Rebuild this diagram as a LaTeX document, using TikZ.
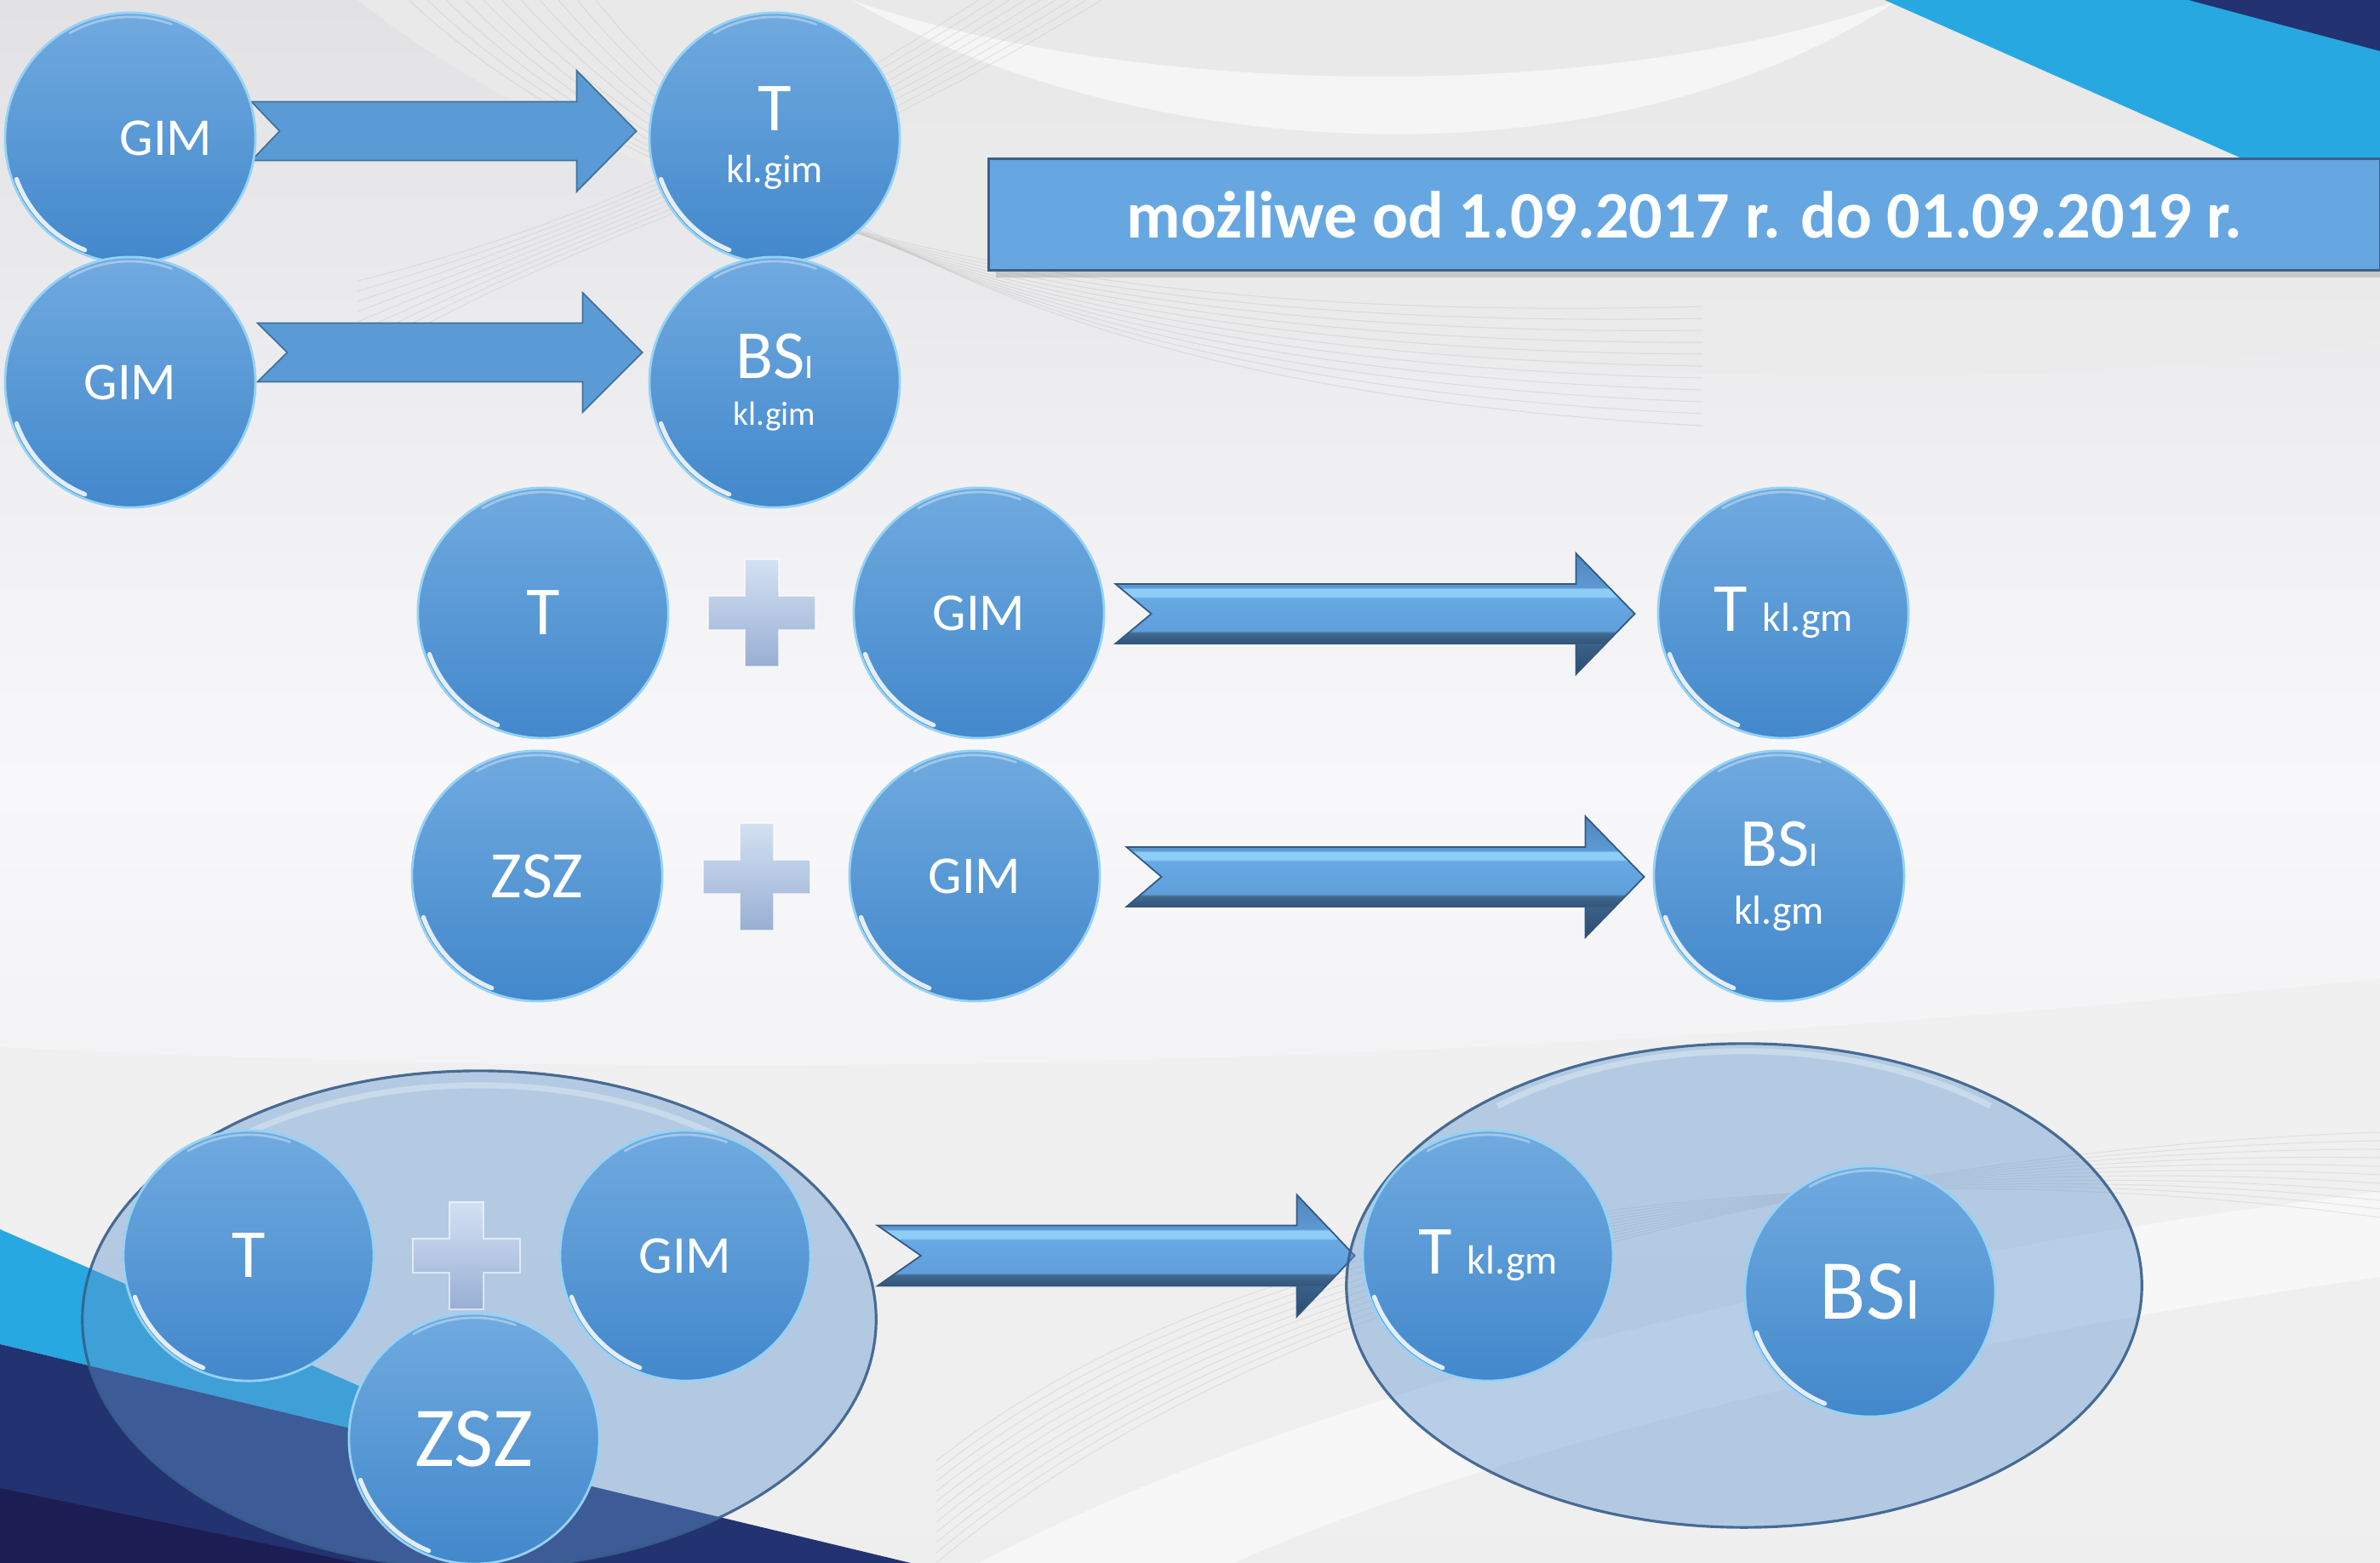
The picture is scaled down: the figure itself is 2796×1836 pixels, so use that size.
\documentclass[tikz,border=0pt]{standalone}
\usepackage{fontspec}
\setmainfont{Carlito}
\usetikzlibrary{calc,shapes.geometric,shadows}
\pgfdeclarelayer{bg}
\pgfdeclarelayer{arr}
\pgfsetlayers{bg,arr,main}

\definecolor{ballTop}{RGB}{112,170,224}
\definecolor{ballBot}{RGB}{66,136,203}
\definecolor{ballRim}{RGB}{150,210,245}
\definecolor{flatFill}{RGB}{91,155,213}
\definecolor{flatEdge}{RGB}{65,113,156}
\definecolor{banFill}{RGB}{102,167,225}
\definecolor{banEdge}{RGB}{62,96,136}
\definecolor{plusTop}{RGB}{212,225,243}
\definecolor{plusBot}{RGB}{152,175,212}
\definecolor{ellFill}{RGB}{97,150,207}
\definecolor{ellEdge}{RGB}{55,95,140}
\definecolor{skyBlue}{RGB}{40,168,224}
\definecolor{navy}{RGB}{35,50,112}
\definecolor{deepNavy}{RGB}{28,29,82}
\definecolor{bgTop}{RGB}{226,226,228}
\definecolor{bgMid}{RGB}{248,248,250}
\definecolor{bgBot}{RGB}{234,234,236}
\definecolor{aDark}{RGB}{44,74,110}
\definecolor{aDarkB}{RGB}{58,97,137}
\definecolor{aBand}{RGB}{52,85,122}
\definecolor{aBandB}{RGB}{65,105,143}
\definecolor{aMid}{RGB}{95,159,219}
\definecolor{aMidB}{RGB}{103,169,228}
\definecolor{aLight}{RGB}{142,205,248}
\definecolor{aTopE}{RGB}{93,151,207}
\definecolor{aUp}{RGB}{79,134,191}
\definecolor{aEdge}{RGB}{50,88,130}

\pgfdeclareverticalshading{arrowthreed}{100bp}{color(0bp)=(aDark); color(25bp)=(aDark); color(37.5bp)=(aDarkB); color(38bp)=(aBand); color(42bp)=(aBandB); color(43bp)=(aMid); color(56.5bp)=(aMidB); color(57.2bp)=(aLight); color(60.2bp)=(aLight); color(61bp)=(aTopE); color(62.5bp)=(aTopE); color(75bp)=(aUp); color(100bp)=(aUp)}

\newcommand\fsz[1]{\fontsize{#1}{#1}\selectfont}

% style, from, to, half shaft, half head, head length, notch depth
\newcommand\blockarrow[7]{%
  \path[#1] let \p1=#2, \p2=#3 in
    (\x1,\y1+#4) -- (\x2-#6,\y1+#4) -- (\x2-#6,\y1+#5) -- (\x2,\y1)
    -- (\x2-#6,\y1-#5) -- (\x2-#6,\y1-#4) -- (\x1,\y1-#4) -- (\x1+#7,\y1) -- cycle;}

\newcommand\plusmark[1]{%
  \path[plusst] (#1) ++(-20,-63) -- ++(40,0) -- ++(0,43) -- ++(43,0) -- ++(0,40)
    -- ++(-43,0) -- ++(0,43) -- ++(-40,0) -- ++(0,-43) -- ++(-43,0) -- ++(0,-40)
    -- ++(43,0) -- cycle;}

\tikzset{
  ball/.style={circle, minimum size=2.94cm, inner sep=0pt, top color=ballTop,
    bottom color=ballBot, draw=ballRim, line width=0.8pt, text=white,
    path picture={
      \draw[white, line width=1.5pt, opacity=.85, line cap=round]
        ($(path picture bounding box.center)+(200:1.42cm)$) arc[start angle=200, end angle=248, radius=1.42cm];
      \draw[white, line width=0.8pt, opacity=.35, line cap=round]
        ($(path picture bounding box.center)+(70:1.42cm)$) arc[start angle=70, end angle=120, radius=1.42cm];
    }},
  bigell/.style={ellipse, inner sep=0pt, fill=ellFill, fill opacity=.42,
    draw=ellEdge, draw opacity=.9, line width=0.9pt,
    path picture={
      \draw[white, line width=2pt, opacity=.3]
        ($(path picture bounding box.center)+(50:4.5cm and 2.75cm)$) arc[start angle=50, end angle=130, x radius=4.5cm, y radius=2.75cm];
    }},
  flatarrow/.style={fill=flatFill, draw=flatEdge, line width=0.5pt},
  arrowthree/.style={shade, shading=arrowthreed, draw=aEdge, line width=0.5pt},
  plusst/.style={top color=plusTop, bottom color=plusBot, draw=white, draw opacity=.6, line width=0.6pt},
  banner/.style={rectangle, minimum width=16.34cm, minimum height=1.31cm, inner sep=0pt,
    fill=banFill, draw=banEdge, line width=0.8pt, text=white, font=\bfseries\fsz{22.2pt},
    drop shadow={shadow xshift=2.5pt, shadow yshift=-2.5pt, opacity=.3}},
}

\begin{document}
\begin{tikzpicture}[x=0.01cm, y=-0.01cm]
\useasboundingbox (0,0) rectangle (2796,1836);

% ---------- background ----------
\begin{pgfonlayer}{bg}
\fill[top color=bgTop, bottom color=bgBot, middle color=bgMid] (0,0) rectangle (2796,1836);
\fill[gray!16, opacity=.8] (420,0) .. controls (900,380) and (2000,520) .. (2796,400) -- (2796,0) -- cycle;
\fill[white, opacity=.55] (1000,0) .. controls (1350,200) and (1900,220) .. (2230,0) .. controls (1900,120) and (1350,120) .. (1000,0) -- cycle;
\foreach \k in {0,...,10}
  \draw[gray!45, line width=0.3pt, opacity=.45] (480+\k*22,0) .. controls (760+\k*15,260) and (1250,380+\k*8) .. (2000,360+\k*14);
\foreach \k in {0,...,8}
  \draw[gray!45, line width=0.3pt, opacity=.4] (1150+\k*18,0) .. controls (900,160+\k*10) and (700,260) .. (420,330+\k*12);
\fill[gray!12, opacity=.8] (0,1230) .. controls (800,1270) and (1700,1260) .. (2796,1150) -- (2796,1836) -- (0,1836) -- cycle;
\fill[white, opacity=.5] (1150,1836) .. controls (1600,1600) and (2300,1460) .. (2796,1400) -- (2796,1500) .. controls (2300,1570) and (1750,1700) .. (1450,1836) -- cycle;
\foreach \k in {0,...,10}
  \draw[gray!45, line width=0.3pt, opacity=.4] (1100,1836-\k*12) .. controls (1500,1500-\k*10) and (2200,1350) .. (2796,1330+\k*10);
% top right corner
\fill[skyBlue] (2214,0) -- (2796,0) -- (2796,258) -- cycle;
\fill[navy] (2571,0) -- (2796,0) -- (2796,60) -- cycle;
% bottom left corner
\fill[skyBlue] (0,1444) -- (690,1745) -- (0,1579) -- cycle;
\fill[navy] (0,1579) -- (1070,1836) -- (0,1836) -- cycle;
\fill[deepNavy] (0,1748) -- (420,1836) -- (0,1836) -- cycle;
\end{pgfonlayer}

% ---------- banner ----------
\node[banner] (ban) at (1979,252) {możliwe od 1.09.2017 r. do 01.09.2019 r.};

% ---------- big translucent ellipses ----------
\node[bigell, minimum width=9.32cm, minimum height=5.84cm] (E1) at (563,1550) {};
\node[bigell, minimum width=9.34cm, minimum height=5.68cm] (E2) at (2049,1510) {};

% ---------- row 1 ----------
\node[ball] (g1) at (153,162) {\fsz{17.8pt}\hspace*{0.84cm}GIM};
\node[ball, align=center, font=\fontsize{13.2pt}{17.4pt}\selectfont] (t1) at (910,162) {{\fsz{23pt}T}\\kl.gim};
\node[ball] (g2) at (153,449) {\fsz{17.8pt}GIM};
\node[ball, align=center, font=\fontsize{11.2pt}{15.6pt}\selectfont] (b1) at (910,449) {{\fsz{23pt}BS\fsz{11.5pt}I}\\kl.gim};

% ---------- row 2 ----------
\node[ball] (t2) at (638,720) {\fsz{23pt}T};
\coordinate (p1) at (895,720);
\node[ball] (g3) at (1150,720) {\fsz{17.8pt}GIM};
\node[ball] (tk2) at (2095,720) {\fsz{23pt}T \fsz{13.6pt}kl.gm};

% ---------- row 3 ----------
\node[ball] (z1) at (631,1029) {\fsz{22.2pt}ZSZ};
\coordinate (p2) at (889,1030);
\node[ball] (g4) at (1145,1029) {\fsz{17.8pt}GIM};
\node[ball, align=center, font=\fontsize{13.6pt}{19.3pt}\selectfont] (bk2) at (2090,1029) {{\fsz{23pt}BS\fsz{11.5pt}I}\\kl.gm};

% ---------- bottom ----------
\node[ball] (t3) at (292,1475) {\fsz{23pt}T};
\coordinate (p3) at (548,1475);
\node[ball] (g5) at (805,1475) {\fsz{17.8pt}GIM};
\node[ball] (z2) at (557,1690) {\fsz{28.5pt}ZSZ};
\node[ball] (tk3) at (1748,1475) {\fsz{23pt}T \fsz{13.6pt}kl.gm};
\node[ball] (bs3) at (2197,1517) {\fsz{28.5pt}BS\fsz{20pt}I};

% ---------- plus signs ----------
\plusmark{p1}
\plusmark{p2}
\plusmark{p3}

% ---------- arrows ----------
\begin{pgfonlayer}{arr}
\blockarrow{flatarrow}{($(g1.east)+(-6,-8)$)}{($(t1.west)+(-14,0)$)}{0.345cm}{0.71cm}{0.70cm}{0.33cm}
\blockarrow{flatarrow}{($(g2.east)+(1,-35)$)}{($(b1.west)+(-7,0)$)}{0.345cm}{0.70cm}{0.70cm}{0.35cm}
\blockarrow{arrowthree}{($(g3.east)+(12,1)$)}{($(tk2.west)+(-26,0)$)}{0.35cm}{0.71cm}{0.69cm}{0.42cm}
\blockarrow{arrowthree}{($(g4.east)+(30,1)$)}{($(bk2.west)+(-10,0)$)}{0.35cm}{0.71cm}{0.69cm}{0.41cm}
\blockarrow{arrowthree}{(E1.east |- t3.center)}{($(tk3.west)+(-8,0)$)}{0.355cm}{0.715cm}{0.68cm}{0.51cm}
\end{pgfonlayer}
\end{tikzpicture}
\end{document}
